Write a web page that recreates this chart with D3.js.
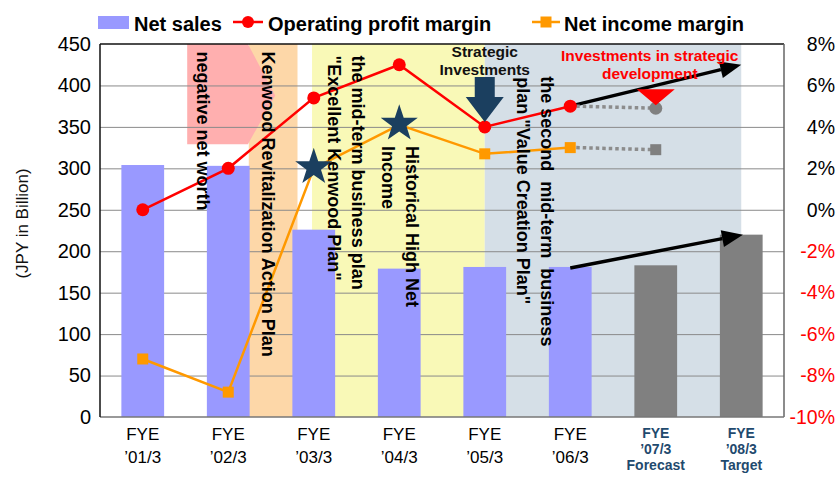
<!DOCTYPE html>
<html>
<head>
<meta charset="utf-8">
<script src="https://cdn.jsdelivr.net/npm/d3@7"></script>
<style>
  body { margin: 0; background: #fff; }
  svg { font-family: "Liberation Sans", Arial, sans-serif; }
</style>
</head>
<body>
<div id="chart"></div>
<script>
// fiscal years and series
var categories = ["’01/3", "’02/3", "’03/3", "’04/3", "’05/3", "’06/3", "’07/3", "’08/3"];
var catNotes = ["", "", "", "", "", "", "Forecast", "Target"];
var netSales = [304, 303, 226, 179, 181, 181, 183, 220];           // JPY billion
var opMargin = [0.0, 2.0, 5.4, 7.0, 4.0, 5.0];                      // %
var netMargin = [-7.2, -8.8, 2.0, 4.1, 2.7, 3.0];                   // %
var opForecast = 4.9;
var netForecast = 2.9;
var opTarget = 7.0;
var leftTicks = [0, 50, 100, 150, 200, 250, 300, 350, 400, 450];
var rightTicks = [-10, -8, -6, -4, -2, 0, 2, 4, 6, 8];

// background periods, in category-index units (band i spans i..i+1)
var periods = [
  {from: 1.74, to: 2.31, color: "#fdd7a8"},
  {from: 2.48, to: 4.5, color: "#f9f9b7"},
  {from: 4.5, to: 7.5, color: "#d5dfe7"}
];

// vertical notes: [index position, net sales level where text starts, text]
var vNotes = [
  [1.2, 441, "negative net worth"],
  [1.965, 441, "Kenwood Revitalization Action Plan"],
  [3.02, 436, "the mid-term business plan"],
  [2.74, 436, "\"Excellent Kenwood Plan\""],
  [3.65, 327, "Historical High Net"],
  [3.37, 327, "Income"],
  [5.23, 411, "the second  mid-term  business"],
  [4.95, 410, "plan \"Value Creation Plan\""]
];

var W = 838, H = 478;
var margin = {top: 44, right: 54, bottom: 61, left: 100},
    width = W - margin.left - margin.right,
    height = H - margin.top - margin.bottom;

var svg = d3.select("#chart").append("svg")
    .attr("width", W)
    .attr("height", H)
  .append("g")
    .attr("transform", "translate(" + margin.left + "," + margin.top + ")");

var xScale = d3.scaleBand().domain(d3.range(categories.length)).range([0, width])
    .paddingInner(0.5).paddingOuter(0.25);
var xi = d3.scaleLinear().domain([0, categories.length]).range([0, width]);
var yL = d3.scaleLinear().domain([0, 450]).range([height, 0]);
var yR = d3.scaleLinear().domain([-10, 8]).range([height, 0]);
function xc(i) { return xScale(i) + xScale.bandwidth() / 2; }

// background periods
periods.forEach(function(p) {
  svg.append("rect")
    .attr("x", xi(p.from)).attr("y", 0)
    .attr("width", xi(p.to) - xi(p.from)).attr("height", height)
    .style("fill", p.color);
});
// negative net worth arrow shape
var pinkPts = [[1.02, 450], [1.73, 450], [2.05, 388], [1.73, 329], [1.02, 329]];
svg.append("polygon")
  .attr("points", pinkPts.map(function(p) { return xi(p[0]) + "," + yL(p[1]); }).join(" "))
  .style("fill", "#ffafaf");

// gridlines
svg.append("g")
    .attr("class", "gridline")
    .call(d3.axisLeft(yL).tickValues(leftTicks.slice(1, -1)).tickSize(-width).tickFormat(""))
    .call(function(g) { g.select(".domain").remove(); })
    .selectAll("line").style("stroke", "#8a8a8a").style("stroke-width", 1);

// bars
svg.selectAll(".bar")
    .data(netSales)
  .enter().append("rect")
    .attr("class", "bar")
    .attr("x", function(d, i) { return xScale(i); })
    .attr("y", function(d) { return yL(d); })
    .attr("width", xScale.bandwidth())
    .attr("height", function(d) { return height - yL(d); })
    .style("fill", function(d, i) { return i < 6 ? "#9999ff" : "#808080"; });

// frame
svg.append("line").attr("x1", 0).attr("x2", width).attr("y1", 0).attr("y2", 0)
  .style("stroke", "#111").style("stroke-width", 1.5);
svg.append("line").attr("x1", width).attr("x2", width).attr("y1", 0).attr("y2", height)
  .style("stroke", "#666").style("stroke-width", 1.5);
svg.append("line").attr("x1", 0).attr("x2", width).attr("y1", height).attr("y2", height)
  .style("stroke", "#777").style("stroke-width", 1.5);
svg.append("line").attr("x1", 0).attr("x2", 0).attr("y1", 0).attr("y2", height)
  .style("stroke", "#111").style("stroke-width", 1.5);

// arrows (drawn under the markers)
function arrow(x1, y1, x2, y2) {
  var a = Math.atan2(y2 - y1, x2 - x1), len = 21, hw = 8.5;
  var bx = x2 - len * Math.cos(a), by = y2 - len * Math.sin(a);
  svg.append("line")
    .attr("x1", x1).attr("y1", y1).attr("x2", bx).attr("y2", by)
    .style("stroke", "#000").style("stroke-width", 3.5);
  svg.append("polygon")
    .attr("points", [
      [x2, y2],
      [bx + hw * Math.sin(a), by - hw * Math.cos(a)],
      [bx - hw * Math.sin(a), by + hw * Math.cos(a)]
    ].map(function(p) { return p.join(","); }).join(" "))
    .style("fill", "#000");
}
arrow(xc(5), yR(opMargin[5]), xi(7.5), yR(opTarget));
arrow(xc(5), yL(netSales[5]) + 1, xi(7.52), yL(netSales[7]));

// dotted links to the forecast
[[opMargin[5], opForecast], [netMargin[5], netForecast]].forEach(function(p) {
  svg.append("line")
    .attr("x1", xc(5) + 6).attr("y1", yR(p[0]))
    .attr("x2", xc(6)).attr("y2", yR(p[1]))
    .style("stroke", "#8c8c8c").style("stroke-width", 3.5)
    .style("stroke-dasharray", "3.5,3");
});

// lines
var valueline = d3.line()
    .x(function(d, i) { return xc(i); })
    .y(function(d) { return yR(d); });
svg.append("path").datum(netMargin)
    .attr("d", valueline)
    .style("fill", "none").style("stroke", "#ff9900").style("stroke-width", 2.5);
svg.append("path").datum(opMargin)
    .attr("d", valueline)
    .style("fill", "none").style("stroke", "#ff0000").style("stroke-width", 2.5);

// markers
svg.selectAll(".nsq").data(netMargin).enter().append("rect")
    .attr("x", function(d, i) { return xc(i) - 5.5; })
    .attr("y", function(d) { return yR(d) - 5.5; })
    .attr("width", 11).attr("height", 11)
    .style("fill", "#ff9900");
svg.selectAll(".odot").data(opMargin).enter().append("circle")
    .attr("cx", function(d, i) { return xc(i); })
    .attr("cy", function(d) { return yR(d); })
    .attr("r", 6.5)
    .style("fill", "#ff0000");
svg.append("circle").attr("cx", xc(6)).attr("cy", yR(opForecast)).attr("r", 6.5)
    .style("fill", "#808080");
svg.append("rect").attr("x", xc(6) - 5.5).attr("y", yR(netForecast) - 5.5)
    .attr("width", 11).attr("height", 11).style("fill", "#808080");

// stars on net income
function starPath(R, r) {
  var pts = [];
  for (var k = 0; k < 10; k++) {
    var rad = k % 2 ? r : R, ang = -Math.PI / 2 + k * Math.PI / 5;
    pts.push([rad * Math.cos(ang), rad * Math.sin(ang)]);
  }
  return "M" + pts.map(function(p) { return p.join(","); }).join("L") + "Z";
}
[2, 3].forEach(function(i) {
  svg.append("path")
    .attr("d", starPath(19.5, 7.6))
    .attr("transform", "translate(" + xc(i) + "," + (yR(netMargin[i]) - 1) + ")")
    .style("fill", "#1b3f5f");
});

// strategic investments down arrow
var ax = xc(4), tipY = yR(opMargin[4]) - 5;
svg.append("polygon")
  .attr("points", [
    [ax - 10, tipY - 45], [ax + 10, tipY - 45], [ax + 10, tipY - 25], [ax + 19, tipY - 25],
    [ax, tipY], [ax - 19, tipY - 25], [ax - 10, tipY - 25]
  ].map(function(p) { return p.join(","); }).join(" "))
  .style("fill", "#1b3f5f");

// red triangle
var ty = yR(opForecast) - 3;
svg.append("polygon")
  .attr("points", [[xc(6) - 19, ty - 16], [xc(6) + 19, ty - 16], [xc(6), ty]]
    .map(function(p) { return p.join(","); }).join(" "))
  .style("fill", "#ff0000");

// horizontal notes
svg.append("text").attr("x", xc(4)).attr("y", 13).attr("text-anchor", "middle")
  .style("font-size", "15.5px").style("font-weight", "bold").attr("fill", "#111")
  .text("Strategic");
svg.append("text").attr("x", xc(4)).attr("y", 31).attr("text-anchor", "middle")
  .style("font-size", "15.5px").style("font-weight", "bold").attr("fill", "#111")
  .text("Investments");
svg.append("text").attr("x", xc(6) - 6).attr("y", 17).attr("text-anchor", "middle")
  .style("font-size", "15.5px").style("font-weight", "bold").attr("fill", "#ff0000")
  .text("Investments in strategic");
svg.append("text").attr("x", xc(6) - 6).attr("y", 35).attr("text-anchor", "middle")
  .style("font-size", "15.5px").style("font-weight", "bold").attr("fill", "#ff0000")
  .text("development");

// vertical notes
vNotes.forEach(function(n) {
  svg.append("text")
    .attr("transform", "translate(" + xi(n[0]) + "," + yL(n[1]) + ") rotate(90)")
    .attr("dominant-baseline", "central")
    .style("font-size", "18px").style("font-weight", "bold")
    .attr("fill", "#000")
    .style("white-space", "pre")
    .text(n[2]);
});

// left axis
svg.append("g")
    .attr("class", "y axis")
    .call(d3.axisLeft(yL).tickValues(leftTicks).tickSize(0).tickPadding(9))
    .call(function(g) { g.select(".domain").remove(); })
    .selectAll("text")
      .style("font-size", "20px")
      .style("font-family", "'Liberation Sans', Arial, sans-serif")
      .attr("fill", "#000");

// right axis
svg.append("g")
    .attr("class", "y axis right")
    .attr("transform", "translate(" + width + ",0)")
    .call(d3.axisRight(yR).tickValues(rightTicks).tickSize(0)
      .tickFormat(function(d) { return d + "%"; }))
    .call(function(g) { g.select(".domain").remove(); })
    .selectAll("text")
      .attr("x", 51)
      .style("text-anchor", "end")
      .style("font-size", "19.5px")
      .style("font-family", "'Liberation Sans', Arial, sans-serif")
      .attr("fill", function(d) { return d < 0 ? "#ff0000" : "#000"; });

// y title
svg.append("text")
    .attr("transform", "translate(" + (-78) + "," + (height / 2 - 7) + ") rotate(-90)")
    .attr("text-anchor", "middle")
    .attr("dominant-baseline", "central")
    .style("font-size", "17px")
    .attr("fill", "#111")
    .text("(JPY in Billion)");

// x labels
categories.forEach(function(c, i) {
  var g = svg.append("text").attr("text-anchor", "middle");
  if (catNotes[i]) {
    g.style("font-size", "14px").style("font-weight", "bold").attr("fill", "#1f4a6e");
    g.append("tspan").attr("x", xc(i)).attr("y", height + 21).text("FYE");
    g.append("tspan").attr("x", xc(i)).attr("y", height + 37).text(c);
    g.append("tspan").attr("x", xc(i)).attr("y", height + 53).text(catNotes[i]);
  } else {
    g.style("font-size", "17px").attr("fill", "#000");
    g.append("tspan").attr("x", xc(i)).attr("y", height + 23).text("FYE");
    g.append("tspan").attr("x", xc(i)).attr("y", height + 46).text(c);
  }
});

// legend
var lg = svg.append("g").attr("transform", "translate(0," + (-margin.top) + ")");
lg.append("rect").attr("x", -2).attr("y", 16).attr("width", 31).attr("height", 13)
  .style("fill", "#9999ff");
lg.append("text").attr("x", 34).attr("y", 31).style("font-size", "20px")
  .style("font-weight", "bold").attr("fill", "#000").text("Net sales");
lg.append("line").attr("x1", 133).attr("x2", 163).attr("y1", 22).attr("y2", 22)
  .style("stroke", "#ff0000").style("stroke-width", 2.5);
lg.append("circle").attr("cx", 148).attr("cy", 22).attr("r", 6).style("fill", "#ff0000");
lg.append("text").attr("x", 168).attr("y", 31).style("font-size", "20px")
  .style("font-weight", "bold").attr("fill", "#000").text("Operating profit margin");
lg.append("line").attr("x1", 432).attr("x2", 460).attr("y1", 22).attr("y2", 22)
  .style("stroke", "#ff9900").style("stroke-width", 2.5);
lg.append("rect").attr("x", 440.5).attr("y", 16.5).attr("width", 11).attr("height", 11)
  .style("fill", "#ff9900");
lg.append("text").attr("x", 464).attr("y", 31).style("font-size", "20px")
  .style("font-weight", "bold").attr("fill", "#000").text("Net income margin");
</script>
</body>
</html>
